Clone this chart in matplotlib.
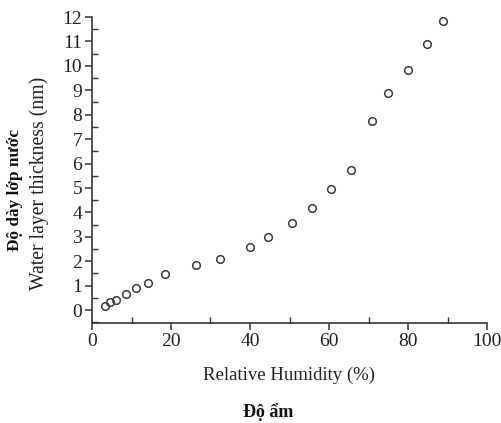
import numpy as np
import matplotlib.pyplot as plt
from matplotlib.ticker import MultipleLocator

# relative humidity (%) and water layer thickness (nm)
humidity = [3.4, 4.6, 6.2, 8.6, 11.1, 14.3, 18.6, 26.3, 32.4, 40.0, 44.5,
            50.6, 55.6, 60.6, 65.6, 71.0, 75.0, 80.0, 84.9, 88.9]
thickness = [0.16, 0.33, 0.41, 0.66, 0.90, 1.12, 1.48, 1.86, 2.10, 2.60, 2.99,
             3.57, 4.18, 4.96, 5.72, 7.73, 8.89, 9.84, 10.90, 11.82]

plt.rcParams['font.family'] = ['Liberation Serif', 'DejaVu Serif']

fig = plt.figure(figsize=(5.02, 4.23), dpi=100)
ax = fig.add_axes([92/502, 1-323/423, (487-92)/502, (323-17)/423])

ax.plot(humidity, thickness, linestyle='none', marker='o', markersize=5.5,
        markerfacecolor='none', markeredgecolor='#3a3a3a', markeredgewidth=1.1)

ax.set_xlim(0, 100)
ax.set_ylim(-0.53, 12)
ax.xaxis.set_major_locator(MultipleLocator(20))
ax.xaxis.set_minor_locator(MultipleLocator(10))
ax.yaxis.set_major_locator(MultipleLocator(1))
ax.yaxis.set_minor_locator(MultipleLocator(0.5))
ax.spines['top'].set_visible(False)
ax.spines['right'].set_visible(False)
for s in ['left', 'bottom']:
    ax.spines[s].set_linewidth(1.2)
    ax.spines[s].set_color('#333333')
ax.tick_params(which='major', direction='out', length=5, width=1.1,
               labelsize=14, colors='#333333', labelcolor='#222222', pad=2)
ax.tick_params(which='minor', direction='in', length=4, width=1.0, colors='#333333')

ax.set_xlabel('Relative Humidity (%)', fontsize=13.5, color='#222222', labelpad=12)
ax.set_ylabel('Water layer thickness (nm)', fontsize=14.2, color='#222222')
ax.yaxis.set_label_coords(-0.110, 0.455)

fig.text(268/502, 1-412/423, 'Độ ẩm', fontsize=13, fontweight='bold',
         ha='center', va='center', color='#111111')
fig.text(15/502, 1-190/423, 'Độ dày lớp nước', fontsize=12.4, fontweight='bold',
         ha='center', va='center', rotation=90, color='#111111')

fig.savefig('out.png', dpi=100)
